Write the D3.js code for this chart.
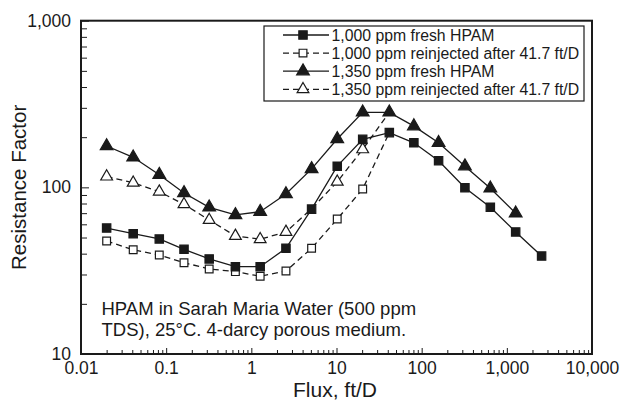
<!DOCTYPE html>
<html>
<head>
<meta charset="utf-8">
<script src="https://cdn.jsdelivr.net/npm/d3@7"></script>
<style>
  body { margin: 0; background: #fff; }
  text { font-family: "Liberation Sans", Arial, sans-serif; fill: #1a1a1a; }
</style>
</head>
<body>
<div id="chart"></div>
<script>
// flux values (ft/D)
const flux = [0.02, 0.041, 0.083, 0.162, 0.32, 0.65, 1.27, 2.55, 5.1, 10.2, 20.3, 41.7, 81, 158, 322, 640, 1270, 2560];

// resistance factor readings
const fresh1000 = [57, 52.7, 49, 42.5, 37.2, 33.4, 33.4, 43.1, 74, 134, 194, 213, 185, 144.5, 99.5, 76, 54, 38.7];
const reinj1000 = [47.6, 42.2, 39.3, 35.3, 32.4, 31.2, 29.3, 31.5, 43.1, 64.5, 97.7, 213];
const fresh1350 = [177, 151.5, 119, 92.5, 75.9, 68.3, 71.4, 91.2, 129, 195, 282, 282, 233, 185, 134, 98.7, 69.9];
const reinj1350 = [116, 106.6, 94.2, 79.1, 63.7, 51.1, 48.8, 54, 74.5, 108, 169, 282];

const seriesNames = ["1,000 ppm fresh HPAM", "1,000 ppm reinjected after 41.7 ft/D",
                     "1,350 ppm fresh HPAM", "1,350 ppm reinjected after 41.7 ft/D"];

const xTicks = [0.01, 0.1, 1, 10, 100, 1000, 10000];
const xTickLabels = ["0.01", "0.1", "1", "10", "100", "1,000", "10,000"];
const yTicks = [10, 100, 1000];
const yTickLabels = ["10", "100", "1,000"];

const W = 624, H = 403;
const margin = {top: 20.7, right: 32, bottom: 49, left: 81};
const width = W - margin.left - margin.right;
const height = H - margin.top - margin.bottom;

const svg = d3.select("#chart").append("svg")
  .attr("width", W).attr("height", H);
const g = svg.append("g")
  .attr("transform", "translate(" + margin.left + "," + margin.top + ")");

const x = d3.scaleLog().domain([0.01, 10000]).range([0, width]);
const y = d3.scaleLog().domain([10, 1000]).range([height, 0]);

// minor ticks 2..9 of each decade
function minors(lo, hi) {
  let out = [];
  for (let d = lo; d < hi; d *= 10)
    for (let k = 2; k <= 9; k++) out.push(d * k);
  return out;
}

// x axis: minor + major ticks pointing inward
g.append("g").attr("class", "axis")
  .attr("transform", "translate(0," + height + ")")
  .call(d3.axisBottom(x).tickValues(minors(0.01, 10000)).tickSize(-4).tickFormat(""));
g.append("g").attr("class", "axis")
  .attr("transform", "translate(0," + height + ")")
  .call(d3.axisBottom(x).tickValues(xTicks).tickSizeInner(-6).tickSizeOuter(0).tickPadding(8)
    .tickFormat((d, i) => xTickLabels[i]));

g.append("g").attr("class", "axis")
  .call(d3.axisLeft(y).tickValues(minors(10, 1000)).tickSize(-6).tickFormat(""));
g.append("g").attr("class", "axis")
  .call(d3.axisLeft(y).tickValues(yTicks).tickSizeInner(-8).tickSizeOuter(0).tickPadding(10)
    .tickFormat((d, i) => yTickLabels[i]));

g.selectAll(".axis .domain").remove();
g.selectAll(".axis line").attr("stroke", "#1a1a1a").attr("stroke-width", 1);
g.selectAll(".axis text").attr("font-size", "17.5px").attr("fill", "#1a1a1a")
  .style("font-family", "'Liberation Sans', Arial, sans-serif");

// plot frame
g.append("rect")
  .attr("width", width).attr("height", height)
  .attr("fill", "none").attr("stroke", "#1a1a1a").attr("stroke-width", 2);

// series definitions
const series = [
  {name: seriesNames[0], vals: fresh1000, shape: d3.symbolSquare, fill: "#1a1a1a", dash: null, size: 70},
  {name: seriesNames[1], vals: reinj1000, shape: d3.symbolSquare, fill: "#fff", dash: "6,4", size: 60},
  {name: seriesNames[2], vals: fresh1350, shape: d3.symbolTriangle, fill: "#1a1a1a", dash: null, size: 70},
  {name: seriesNames[3], vals: reinj1350, shape: d3.symbolTriangle, fill: "#fff", dash: "6,4", size: 60}
];

const line = d3.line().x(d => x(d[0])).y(d => y(d[1]));

// an open marker sitting on a filled one is hidden beneath it
function coversFilled(j, v) {
  return [fresh1000, fresh1350].some(a => a[j] !== undefined && Math.abs(Math.log10(a[j] / v)) < 0.02);
}

// draw dashed (reinjected) series first, then the fresh ones on top
[1, 3, 0, 2].forEach(i => {
  let s = series[i];
  let pts = s.vals.map((v, j) => [flux[j], v, j]);
  g.append("path")
    .attr("d", line(pts))
    .attr("fill", "none")
    .attr("stroke", "#1a1a1a")
    .attr("stroke-width", 1.3)
    .attr("stroke-dasharray", s.dash);
  let shown = s.fill === "#fff" ? pts.filter(d => !coversFilled(d[2], d[1])) : pts;
  g.selectAll(".pt" + i)
    .data(shown)
    .enter().append("path")
    .attr("transform", d => "translate(" + x(d[0]) + "," + y(d[1]) + ")")
    .attr("d", d3.symbol().type(s.shape).size(s.size))
    .attr("fill", s.fill)
    .attr("stroke", "#1a1a1a")
    .attr("stroke-width", 1.2);
});

// legend
const lg = svg.append("g").attr("transform", "translate(264,26)");
lg.append("rect").attr("width", 320).attr("height", 75)
  .attr("fill", "#fff").attr("stroke", "#1a1a1a").attr("stroke-width", 1.2);
series.forEach((s, i) => {
  let cy = 9 + i * 18.1;
  lg.append("line").attr("x1", 19).attr("x2", 65).attr("y1", cy).attr("y2", cy)
    .attr("stroke", "#1a1a1a").attr("stroke-width", 1.3).attr("stroke-dasharray", s.dash);
  lg.append("path").attr("transform", "translate(39," + cy + ")")
    .attr("d", d3.symbol().type(s.shape).size(s.size))
    .attr("fill", s.fill).attr("stroke", "#1a1a1a").attr("stroke-width", 1.2);
  lg.append("text").attr("x", 67.5).attr("y", cy).attr("dy", "0.36em")
    .attr("font-size", "15.8px").text(s.name);
});

// annotation
const note = g.append("text").attr("font-size", "18.5px");
note.append("tspan").attr("x", 20.5).attr("y", 294).text("HPAM in Sarah Maria Water (500 ppm");
note.append("tspan").attr("x", 20.5).attr("y", 315).text("TDS), 25\u00B0C. 4-darcy porous medium.");

// axis titles
svg.append("text")
  .attr("x", 335).attr("y", 397)
  .attr("text-anchor", "middle").attr("font-size", "21px")
  .text("Flux, ft/D");
svg.append("text")
  .attr("transform", "translate(26," + (margin.top + height / 2) + ") rotate(-90)")
  .attr("text-anchor", "middle").attr("font-size", "20.5px")
  .text("Resistance Factor");
</script>
</body>
</html>
